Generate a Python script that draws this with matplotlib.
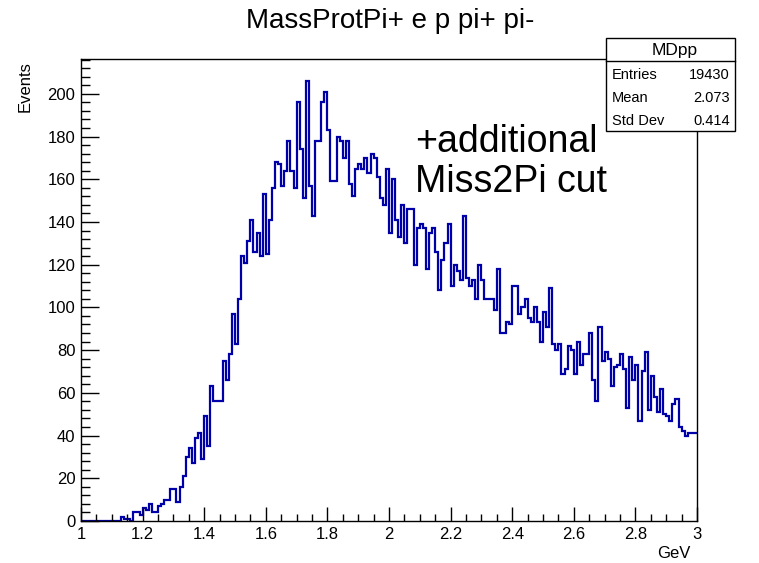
import numpy as np
import matplotlib
matplotlib.use("Agg")
import matplotlib.pyplot as plt
from matplotlib.ticker import MultipleLocator

plt.rcParams['font.family'] = ['Liberation Sans', 'DejaVu Sans']

# Histogram definition (ROOT TH1: 200 bins from 1 to 3 GeV)
x_min, x_max, n_bins = 1.0, 3.0, 200

counts = [
    0, 0, 0, 0, 0, 0, 0, 0, 0, 0,
    0, 0, 0, 2, 1, 1, 0, 4, 4, 3,
    6, 5, 8, 4, 4, 7, 8, 10, 10, 15,
    15, 9, 16, 21, 30, 34, 27, 39, 41, 29,
    49, 35, 63, 56, 56, 56, 75, 66, 78, 97,
    83, 104, 124, 121, 131, 141, 126, 135, 124, 153,
    125, 141, 156, 168, 167, 157, 164, 178, 164, 156,
    196, 174, 151, 206, 157, 143, 178, 178, 196, 201,
    183, 159, 159, 180, 178, 170, 178, 158, 152, 165,
    167, 165, 170, 163, 172, 170, 161, 151, 148, 165,
    135, 160, 141, 133, 148, 130, 146, 146, 120, 137,
    139, 137, 118, 135, 137, 126, 108, 122, 130, 139,
    110, 120, 117, 113, 143, 114, 110, 113, 104, 120,
    113, 104, 104, 104, 99, 118, 88, 88, 93, 92,
    110, 110, 97, 100, 104, 95, 93, 100, 93, 84,
    98, 91, 109, 83, 80, 83, 69, 71, 82, 80,
    69, 84, 73, 78, 78, 88, 66, 56, 91, 75,
    79, 76, 63, 72, 73, 78, 71, 53, 77, 66,
    73, 47, 70, 79, 52, 68, 58, 51, 62, 50,
    49, 47, 55, 57, 44, 42, 40, 41, 41, 41,
]

hist_name = "MDpp"
stat_labels = ["Entries", "Mean", "Std Dev"]
stat_values = ["19430", "2.073", "0.414"]
title = "MassProtPi+ e p pi+ pi-"
x_label = "GeV"
y_label = "Events"
note = "+additional\nMiss2Pi cut"

W, H = 759, 563
fig = plt.figure(figsize=(W / 100, H / 100), dpi=100)
fig.patch.set_facecolor("white")

def fx(px):
    return px / W

def fy(py):
    return 1 - py / H

ax_l, ax_r, ax_t, ax_b = 81, 697, 59, 521
ax = fig.add_axes([fx(ax_l), fy(ax_b), fx(ax_r) - fx(ax_l), fy(ax_t) - fy(ax_b)])

edges = np.linspace(x_min, x_max, n_bins + 1)
ax.stairs(counts, edges, baseline=None, color="#0000a8", linewidth=1.6)

ax.set_xlim(x_min, x_max)
ax.set_ylim(0, 1.05 * max(counts))

ax.xaxis.set_major_locator(MultipleLocator(0.2))
ax.xaxis.set_minor_locator(MultipleLocator(0.05))
ax.yaxis.set_major_locator(MultipleLocator(20))
ax.yaxis.set_minor_locator(MultipleLocator(4))

def fmt_x(v, pos):
    s = f"{v:.1f}"
    if s.endswith(".0"):
        s = s[:-2]
    return s

ax.xaxis.set_major_formatter(plt.FuncFormatter(fmt_x))
ax.yaxis.set_major_formatter(plt.FuncFormatter(lambda v, p: f"{v:.0f}"))

ax.tick_params(axis="both", which="both", direction="in", top=False, right=False,
               colors="black", width=1.0)
ax.tick_params(axis="y", which="major", length=13, labelsize=12, pad=4)
ax.tick_params(axis="y", which="minor", length=6.5)
ax.tick_params(axis="x", which="major", length=10, labelsize=12, pad=4)
ax.tick_params(axis="x", which="minor", length=5)
for sp in ax.spines.values():
    sp.set_linewidth(1.0)
    sp.set_color("black")

# axis titles
fig.text(fx(690), fy(553), x_label, ha="right", va="center", fontsize=12)
fig.text(fx(25), fy(61), y_label, ha="center", va="top", rotation=90, fontsize=12)

# title
fig.text(fx(390), fy(21), title, ha="center", va="center", fontsize=20)

# annotation
fig.text(fx(415), fy(200), note, ha="left", va="bottom", fontsize=27, linespacing=1.15)

# stats box
bx0, bx1, by0, by1, bsep = 606, 735, 38, 131, 61
box = plt.Rectangle((fx(bx0), fy(by1)), fx(bx1) - fx(bx0), fy(by0) - fy(by1),
                    transform=fig.transFigure, facecolor="white", edgecolor="black",
                    linewidth=1.0, zorder=5)
fig.add_artist(box)
fig.add_artist(plt.Line2D([fx(bx0), fx(bx1)], [fy(bsep), fy(bsep)],
                          transform=fig.transFigure, color="black", linewidth=1.0, zorder=6))
fig.text(fx((bx0 + bx1) / 2 + 4), fy(50), hist_name, ha="center", va="center", fontsize=12.5, zorder=7)
for i, (lab, val) in enumerate(zip(stat_labels, stat_values)):
    yy = fy(75 + i * 23)
    fig.text(fx(612), yy, lab, ha="left", va="center", fontsize=10.5, zorder=7)
    fig.text(fx(730), yy, val, ha="right", va="center", fontsize=10.5, zorder=7)

fig.savefig("out.png", dpi=100, facecolor="white")
